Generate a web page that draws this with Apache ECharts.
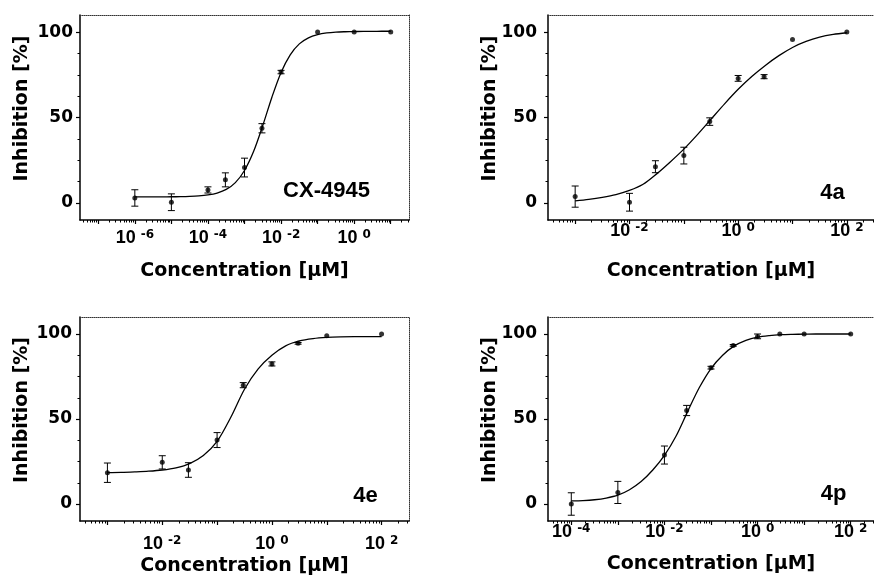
<!DOCTYPE html>
<html><head><meta charset="utf-8">
<script src="https://cdn.jsdelivr.net/npm/echarts@6/dist/echarts.min.js"></script>
<style>html,body{margin:0;padding:0;background:#fff}#c{width:874px;height:582px}</style>
</head><body><div id="c"></div>
<script>
// ---------- DATA ----------
// CX-4945
const cxConc = [1e-6, 1e-5, 1e-4, 3e-4, 1e-3, 3e-3, 1e-2, 1e-1, 1, 10];
const cxMean = [2.9, 0.4, 7.6, 13.5, 20.7, 43.7, 76.6, 100, 100, 100];
const cxErr  = [4.8, 4.9, 1.8, 4.1, 5.5, 2.7, 1.0, 0, 0, 0];
const cxCurveConc = [1e-6, 1.78e-6, 3.16e-6, 5.62e-6, 1e-5, 1.78e-5, 3.16e-5, 5.62e-5, 1e-4, 1.78e-4, 3.16e-4, 5.62e-4,
  1e-3, 1.78e-3, 3.16e-3, 5.62e-3, 1e-2, 1.78e-2, 3.16e-2, 5.62e-2, 0.1, 0.178, 0.316, 0.562, 1, 1.78, 3.16, 5.62, 10];
const cxCurveVal  = [3.5, 3.5, 3.5, 3.55, 3.6, 3.65, 3.8, 4.1, 4.7, 5.8, 7.9, 11.9,
  19, 30.2, 45.3, 61.9, 76.4, 86.7, 93.1, 96.6, 98.5, 99.5, 100, 100.2, 100.3, 100.4, 100.4, 100.5, 100.5];
const cxTickExp = [-6, -4, -2, 0];

// 4a
const aConc = [1e-3, 1e-2, 3e-2, 1e-1, 3e-1, 1, 3, 10, 100];
const aMean = [3.7, 0.4, 21.2, 27.7, 47.6, 72.9, 73.9, 95.7, 100];
const aErr  = [6.2, 5.2, 3.5, 4.9, 2.2, 1.7, 1.2, 0, 0];
const aCurveConc = [1e-3, 1.78e-3, 3.16e-3, 5.62e-3, 1e-2, 1.78e-2, 3.16e-2, 5.62e-2, 0.1, 0.178, 0.316, 0.562,
  1, 1.78, 3.16, 5.62, 10, 17.8, 31.6, 56.2, 100];
const aCurveVal  = [1.2, 2.1, 3.3, 4.9, 7.3, 10.9, 17, 24, 31.5, 40, 49, 58,
  66.5, 74, 80.5, 86.2, 91, 94.5, 97, 98.6, 99.6];
const aTickExp = [-2, 0, 2];

// 4e
const eConc = [1e-3, 1e-2, 3e-2, 1e-1, 3e-1, 1, 3, 10, 100];
const eMean = [18.4, 24.5, 20, 37.6, 69.9, 82.4, 94.5, 99, 100];
const eErr  = [5.7, 3.9, 4.3, 4.4, 1.5, 1.2, 0.5, 0, 0];
const eCurveConc = [1e-3, 1.78e-3, 3.16e-3, 5.62e-3, 1e-2, 1.78e-2, 3.16e-2, 5.62e-2, 0.1, 0.178, 0.316, 0.562,
  1, 1.78, 3.16, 5.62, 10, 17.8, 31.6, 56.2, 100];
const eCurveVal  = [18.5, 18.6, 18.9, 19.3, 20, 21.3, 23.8, 28.5, 36.8, 51, 67.5, 79.5,
  87.5, 93, 95.9, 97.3, 98, 98.3, 98.4, 98.4, 98.4];
const eTickExp = [-2, 0, 2];

// 4p
const pConc = [1e-4, 1e-3, 1e-2, 3e-2, 1e-1, 3e-1, 1, 3, 10, 100];
const pMean = [0, 6.8, 28.8, 55, 80.2, 93.3, 98.6, 100, 100, 100];
const pErr  = [6.6, 6.5, 5.3, 3.0, 0.8, 0.5, 1.4, 0, 0, 0];
const pCurveConc = [1e-4, 1.78e-4, 3.16e-4, 5.62e-4, 1e-3, 1.78e-3, 3.16e-3, 5.62e-3, 1e-2, 1.78e-2, 3.16e-2, 5.62e-2,
  0.1, 0.178, 0.316, 0.562, 1, 1.78, 3.16, 5.62, 10, 17.8, 31.6, 56.2, 100];
const pCurveVal  = [1.8, 2.0, 2.5, 3.5, 5.2, 8.4, 13.2, 20, 28.6, 40, 54.5, 68.5,
  79.7, 87.5, 93, 96.3, 98.2, 99.1, 99.6, 99.8, 99.9, 100, 100, 100, 100];
const pTickExp = [-4, -2, 0, 2];

const yLabelVals = [0, 50, 100];
const yMinorVals = [12.5, 25, 37.5, 62.5, 75, 87.5];
const names = ['CX-4945', '4a', '4e', '4p'];
const xTitle = 'Concentration [µM]';
const yTitle = 'Inhibition [%]';

// ---------- LAYOUT ----------
const FONT = '"Liberation Sans", Arial, Helvetica, sans-serif';
const WFONT = '"DejaVu Sans", Verdana, sans-serif';
const panels = [
  {name: names[0], conc: cxConc, mean: cxMean, err: cxErr, cc: cxCurveConc, cv: cxCurveVal, ticks: cxTickExp,
   grid: {left: 80, top: 15, width: 329, height: 205}, lo: -7.5, hi: 1.5, xm: 9, xg: 42, ym: 7, tag: [326.5, 191]},
  {name: names[1], conc: aConc, mean: aMean, err: aErr, cc: aCurveConc, cv: aCurveVal, ticks: aTickExp,
   grid: {left: 548, top: 15, width: 329, height: 205}, lo: -3.5, hi: 2.5, xm: 2, xg: 42, ym: 11, tag: [832.5, 193]},
  {name: names[2], conc: eConc, mean: eMean, err: eErr, cc: eCurveConc, cv: eCurveVal, ticks: eTickExp,
   grid: {left: 80, top: 317, width: 329, height: 204}, lo: -3.5, hi: 2.5, xm: 14, xg: 36, ym: 8, tag: [365.5, 495.5]},
  {name: names[3], conc: pConc, mean: pMean, err: pErr, cc: pCurveConc, cv: pCurveVal, ticks: pTickExp,
   grid: {left: 548, top: 317, width: 329, height: 204}, lo: -4.5, hi: 2.5, xm: 2, xg: 34, ym: 11, tag: [833.5, 494]}
];

function decadeTicks(lo, hi) {
  const majors = [], minors = [];
  for (let n = Math.floor(lo); n <= Math.ceil(hi); n++) {
    if (n >= lo && n <= hi) majors.push(Math.pow(10, n));
    for (let k = 2; k <= 9; k++) {
      const v = k * Math.pow(10, n);
      const l = Math.log10(v);
      if (l >= lo && l <= hi) minors.push(v);
    }
  }
  return {majors, minors};
}

const grids = [], xAxes = [], yAxes = [], series = [], graphics = [];
const black = '#000';

panels.forEach((p, i) => {
  grids.push(Object.assign({containLabel: false}, p.grid));
  const t = decadeTicks(p.lo, p.hi);
  const xmin = Math.pow(10, p.lo), xmax = Math.pow(10, p.hi);
  const baseX = {type: 'log', logBase: 10, gridIndex: i, min: xmin, max: xmax,
    splitLine: {show: false}, minorTick: {show: false}, minorSplitLine: {show: false}};
  xAxes.push(Object.assign({}, baseX, {
    position: 'bottom',
    axisLine: {show: true, onZero: false, lineStyle: {color: black, width: 1.5}},
    axisTick: {show: true, inside: false, length: 4, customValues: t.majors, lineStyle: {color: black, width: 1.2}},
    axisLabel: {show: true, margin: p.xm, customValues: p.ticks.map(e => Math.pow(10, e)),
      formatter: v => '{b|10}{s|' + Math.round(Math.log10(v)) + '}',
      rich: {
        b: {fontFamily: FONT, fontWeight: 'bold', fontSize: 18, color: black, lineHeight: 18},
        s: {fontFamily: WFONT, fontWeight: 'bold', fontSize: 12, color: black, lineHeight: 12, verticalAlign: 'top', padding: [0, 0, 0, 5]}
      }},
    name: xTitle, nameLocation: 'middle', nameGap: p.xg, nameMoveOverlap: false,
    nameTextStyle: {fontFamily: WFONT, fontWeight: 'bold', fontSize: 19, color: black}
  }));
  xAxes.push(Object.assign({}, baseX, {
    position: 'bottom',
    axisLine: {show: false, onZero: false},
    axisTick: {show: true, inside: false, length: 2.5, customValues: t.minors, lineStyle: {color: black, width: 1}},
    axisLabel: {show: false}
  }));
  xAxes.push(Object.assign({}, baseX, {
    position: 'top',
    axisLine: {show: true, onZero: false, lineStyle: {color: '#333', width: 1, type: 'dotted'}},
    axisTick: {show: false}, axisLabel: {show: false}
  }));

  const baseY = {type: 'value', gridIndex: i, min: -10, max: 110,
    splitLine: {show: false}, minorTick: {show: false}};
  yAxes.push(Object.assign({}, baseY, {
    position: 'left',
    axisLine: {show: true, onZero: false, lineStyle: {color: black, width: 1.5}},
    axisTick: {show: true, inside: false, length: 4, customValues: yLabelVals, lineStyle: {color: black, width: 1.2}},
    axisLabel: {show: true, margin: p.ym, customValues: yLabelVals,
      fontFamily: WFONT, fontWeight: 'bold', fontSize: 17, color: black},
    name: yTitle, nameLocation: 'middle', nameGap: 48, nameMoveOverlap: false,
    nameTextStyle: {fontFamily: WFONT, fontWeight: 'bold', fontSize: 19, color: black, padding: [0, 0, 0, 18]}
  }));
  yAxes.push(Object.assign({}, baseY, {
    position: 'left',
    axisLine: {show: false, onZero: false},
    axisTick: {show: true, inside: false, length: 2.5, customValues: yMinorVals, lineStyle: {color: black, width: 1}},
    axisLabel: {show: false}
  }));
  yAxes.push(Object.assign({}, baseY, {
    position: 'right',
    axisLine: {show: true, onZero: false, lineStyle: {color: '#333', width: 1, type: 'dotted'}},
    axisTick: {show: false}, axisLabel: {show: false}
  }));

  const xi = 3 * i, yi = 3 * i;
  series.push({
    type: 'line', xAxisIndex: xi, yAxisIndex: yi, silent: true,
    data: p.cc.map((c, k) => [c, p.cv[k]]),
    showSymbol: false, symbol: 'none', smooth: 0.3,
    lineStyle: {color: black, width: 1.3}, z: 2
  });
  series.push({
    type: 'custom', xAxisIndex: xi, yAxisIndex: yi, silent: true, z: 3,
    data: p.conc.map((c, k) => [c, p.mean[k] - p.err[k], p.mean[k] + p.err[k], p.err[k]]),
    encode: {x: 0, y: [1, 2]},
    renderItem: (params, api) => {
      const x = api.value(0), lo = api.value(1), hi = api.value(2), e = api.value(3);
      if (!(e > 0)) return null;
      const a = api.coord([x, lo]), b = api.coord([x, hi]);
      const w = 3.5, st = {stroke: black, lineWidth: 1};
      return {type: 'group', children: [
        {type: 'line', shape: {x1: a[0], y1: a[1], x2: b[0], y2: b[1]}, style: st},
        {type: 'line', shape: {x1: a[0] - w, y1: a[1], x2: a[0] + w, y2: a[1]}, style: st},
        {type: 'line', shape: {x1: b[0] - w, y1: b[1], x2: b[0] + w, y2: b[1]}, style: st}
      ]};
    }
  });
  series.push({
    type: 'scatter', xAxisIndex: xi, yAxisIndex: yi, silent: true, z: 4,
    data: p.conc.map((c, k) => [c, p.mean[k]]),
    symbol: 'circle', symbolSize: 5, itemStyle: {color: black}
  });
  graphics.push({
    type: 'text', x: p.tag[0], y: p.tag[1],
    style: {text: p.name, font: 'bold 22px ' + FONT, fill: black, align: 'center', verticalAlign: 'middle',
            textAlign: 'center', textVerticalAlign: 'middle'}
  });
});

const chart = echarts.init(document.getElementById('c'), null, {renderer: 'canvas'});
chart.setOption({
  animation: false,
  backgroundColor: '#fff',
  grid: grids, xAxis: xAxes, yAxis: yAxes, series: series, graphic: graphics
});
</script>
</body></html>
